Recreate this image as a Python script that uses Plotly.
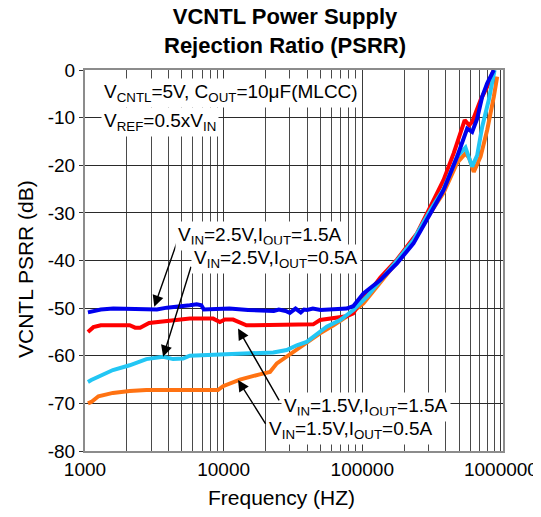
import numpy as np
import plotly.graph_objects as go

# ---------------- data ----------------
x_ticks = [1000, 10000, 100000, 1000000]
x_tick_labels = ["1000", "10000", "100000", "1000000"]
x_minor = [m * d for d in (1000, 10000, 100000) for m in range(2, 10)]
y_ticks = [-80, -70, -60, -50, -40, -30, -20, -10, 0]
y_tick_labels = ["-80", "-70", "-60", "-50", "-40", "-30", "-20", "-10", "0"]

# VIN=2.5V, IOUT=1.5A (blue)
f_blue = [1050, 1100, 1300, 1600, 2000, 2800, 3300, 3900, 4800, 5700, 6400, 6900, 7200,
          8500, 11000, 15000, 19000, 23000, 25000, 28000, 30000, 33000, 36000, 38000,
          40000, 44000, 50000, 60000, 70000, 77000, 86000, 102000, 135000, 178000,
          234000, 310000, 386000, 483000, 539000, 571000, 620000, 674000, 733000,
          796000, 889000]
db_blue = [-50.9, -50.8, -50.3, -50.1, -50.1, -50.1, -50.3, -49.9, -49.7, -49.4, -49.2,
           -49.4, -50.3, -50.3, -50.1, -50.4, -50.5, -50.6, -50.3, -50.6, -51.0, -50.1,
           -50.9, -50.3, -50.4, -50.1, -50.4, -50.3, -50.2, -50.1, -49.6, -46.9, -44.1,
           -40.6, -36.4, -30.1, -25.2, -18.2, -14.7, -12.3, -13.0, -10.2, -5.6, -2.8, 0.0]

# VIN=1.5V, IOUT=1.5A (red)
f_red = [1050, 1150, 1300, 2100, 2300, 2500, 2900, 4000, 5700, 8400, 9400, 10200, 11700,
         14600, 20000, 30000, 40000, 44300, 49600, 60000, 77000, 86000, 95000, 110000,
         135000, 178000, 248000, 310000, 386000, 456000, 511000, 548000, 590000, 620000,
         713000, 796000, 889000]
db_red = [-55.0, -54.0, -53.6, -53.6, -54.1, -54.1, -53.1, -52.6, -52.2, -52.2, -52.9,
          -52.4, -52.4, -53.6, -53.6, -53.5, -53.6, -53.4, -52.5, -52.2, -51.7, -51.1,
          -49.0, -47.0, -43.6, -39.8, -34.3, -28.7, -23.1, -17.5, -13.0, -10.5, -11.6,
          -10.9, -6.3, -3.5, 0.0]

# VIN=2.5V, IOUT=0.5A (cyan)
f_cyan = [1050, 1110, 1590, 2100, 2770, 3660, 4320, 5100, 5700, 13100, 14600, 22800,
          28500, 33700, 39700, 44400, 55400, 69200, 86300, 108000, 134700, 178000,
          234000, 310000, 386000, 483000, 555000, 620000, 674000, 733000, 817000, 900000]
db_cyan = [-65.5, -65.1, -63.0, -62.0, -60.7, -60.2, -60.7, -60.6, -60.0, -59.7, -59.5,
           -59.3, -58.8, -57.8, -57.1, -56.0, -53.9, -52.5, -50.4, -47.6, -44.1, -40.0,
           -35.7, -29.4, -25.0, -18.2, -16.3, -20.3, -17.9, -11.9, -6.3, 0.0]

# VIN=1.5V, IOUT=0.5A (orange)
f_orange = [1050, 1110, 1250, 1590, 2100, 2770, 5000, 9100, 9900, 13100, 18200, 21600,
            24200, 28500, 31700, 35500, 41900, 49600, 62000, 77000, 102000, 135000,
            178000, 234000, 310000, 386000, 483000, 555000, 590000, 637000, 713000,
            796000, 889000, 940000]
db_orange = [-70.0, -69.7, -68.5, -67.8, -67.4, -67.2, -67.2, -67.2, -66.4, -65.0, -63.9,
             -63.4, -61.6, -60.2, -59.2, -58.1, -56.7, -55.3, -53.6, -51.8, -49.0, -44.6,
             -40.5, -36.0, -30.0, -25.8, -19.5, -17.5, -18.5, -21.4, -18.2, -12.6, -5.6, -1.4]

series = [
    ("VIN=1.5V,IOUT=0.5A", f_orange, db_orange, "#FF7212"),
    ("VIN=1.5V,IOUT=1.5A", f_red, db_red, "#FF0000"),
    ("VIN=2.5V,IOUT=0.5A", f_cyan, db_cyan, "#22C6F4"),
    ("VIN=2.5V,IOUT=1.5A", f_blue, db_blue, "#0000EE"),
]

FONT = "Liberation Sans, Arial, sans-serif"

fig = go.Figure()
for name, fx, fy, col in series:
    fig.add_trace(go.Scatter(x=fx, y=fy, mode="lines", name=name,
                             line=dict(color=col, width=4)))

# the page body adds an 8px offset; the figure is sized so it fills the window
OFF = 8
W, H = 541 - OFF, 517 - OFF
# plot area in window pixels: x 85..503, y 70..451
L, R, T, B = 85, 38, 70, 66
PW, PH = 541 - L - R, 517 - T - B


def px(xp):
    return (xp - L) / PW


def py(yp):
    return (517 - B - yp) / PH


annotations = []
# arrows (head -> tail in data coords, log10 for x)
arrows = [
    ((3160, -49.7), (4670, -35.7)),
    ((3660, -60.2), (5860, -41.0)),
    ((12700, -54.3), (25500, -69.7)),
    ((12700, -65.1), (20400, -74.6)),
]
for (hx, hy), (tx, ty) in arrows:
    annotations.append(dict(x=np.log10(hx), y=hy, ax=np.log10(tx), ay=ty,
                            xref="x", yref="y", axref="x", ayref="y", text="",
                            showarrow=True, arrowhead=2, arrowsize=1.6,
                            arrowwidth=1.4, arrowcolor="black"))

labels = [
    ("V<sub>CNTL</sub>=5V, C<sub>OUT</sub>=10μF(MLCC)", 101, 93),
    ("V<sub>REF</sub>=0.5xV<sub>IN</sub>", 101, 122),
    ("V<sub>IN</sub>=2.5V,I<sub>OUT</sub>=1.5A", 175, 236),
    ("V<sub>IN</sub>=2.5V,I<sub>OUT</sub>=0.5A", 191, 259),
    ("V<sub>IN</sub>=1.5V,I<sub>OUT</sub>=1.5A", 281, 407),
    ("V<sub>IN</sub>=1.5V,I<sub>OUT</sub>=0.5A", 266, 430),
]
for txt, xl, yc in labels:
    annotations.append(dict(text=txt, x=px(xl), y=py(yc), xref="paper", yref="paper",
                            xanchor="left", yanchor="middle", showarrow=False,
                            bgcolor="white", borderpad=2,
                            font=dict(family=FONT, size=19, color="black")))

# chart title
annotations.append(dict(text="<b>VCNTL Power Supply<br>Rejection Ratio (PSRR)</b>",
                        x=px(285), y=py(31), xref="paper", yref="paper",
                        xanchor="center", yanchor="middle", showarrow=False,
                        font=dict(family=FONT, size=22, color="black")))
# axis titles
annotations.append(dict(text="Frequency (HZ)", x=px(281.5), y=py(497), xref="paper",
                        yref="paper", xanchor="center", yanchor="middle", showarrow=False,
                        font=dict(family=FONT, size=21, color="black")))
annotations.append(dict(text="VCNTL PSRR (dB)", x=px(25), y=py(269), xref="paper",
                        yref="paper", xanchor="center", yanchor="middle", showarrow=False,
                        textangle=-90, font=dict(family=FONT, size=21, color="black")))

fig.update_layout(
    width=W, height=H,
    margin=dict(l=L - OFF, r=R, t=T - OFF, b=B, autoexpand=False),
    paper_bgcolor="white", plot_bgcolor="white",
    showlegend=False,
    font=dict(family=FONT, size=19, color="black"),
    annotations=annotations,
)

fig.update_xaxes(
    type="log", range=[3, 6.015], automargin=False,
    tickmode="array", tickvals=x_ticks, ticktext=x_tick_labels,
    showgrid=True, gridcolor="#3a3a3a", gridwidth=1.2,
    minor=dict(tickmode="array", tickvals=x_minor, showgrid=True,
               gridcolor="#4a4a4a", gridwidth=1.2, ticks=""),
    showline=True, linecolor="#8c8c8c", linewidth=2, mirror=True,
    ticks="", zeroline=False,
    tickfont=dict(family=FONT, size=19, color="black"),
)
fig.update_yaxes(
    range=[-80, 0], automargin=False,
    tickmode="array", tickvals=y_ticks, ticktext=y_tick_labels,
    showgrid=True, gridcolor="#2a2a2a", gridwidth=1.2,
    showline=True, linecolor="#8c8c8c", linewidth=2, mirror=True,
    ticks="outside", ticklen=4, tickcolor="#333", zeroline=False,
    tickfont=dict(family=FONT, size=19, color="black"),
)

fig.write_html("out.html")
